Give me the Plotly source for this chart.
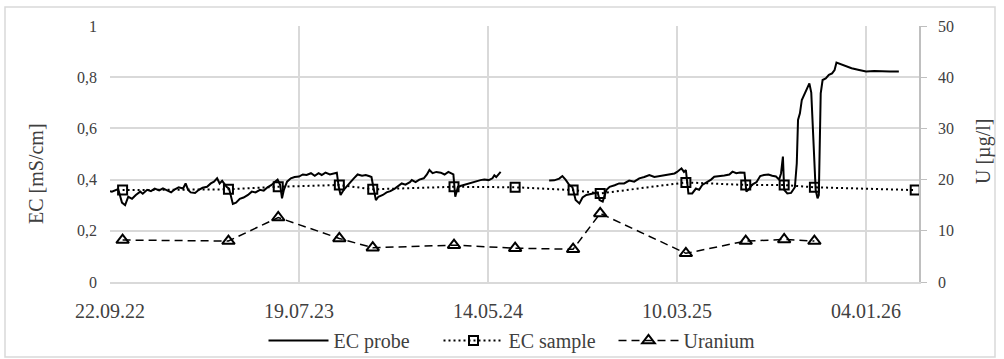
import pandas as pd
import plotly.graph_objects as go

# ---------------- data ----------------
start_date = "2022-09-22"

# EC probe (continuous logger), days since start, two segments separated by a gap
probe_days_1 = [0, 3, 13, 16, 19, 24, 29, 35, 41, 48, 52, 59, 65, 71, 78, 84, 90, 97, 103, 109,
                116, 120, 124, 128, 135, 141, 147, 154, 160, 165, 170, 174, 178, 182, 185, 189,
                192, 195, 200, 206, 212, 219, 225, 231, 238, 244, 250, 257, 262, 266, 270, 273,
                276, 281, 287, 293, 300, 306, 312, 319, 325, 331, 336, 342, 349, 355, 360, 363,
                366, 371, 376, 380, 387, 393, 400, 406, 412, 415, 418, 422, 426, 433, 439, 445,
                452, 457, 463, 469, 476, 479, 485, 491, 498, 503, 507, 512, 518, 525, 531, 537,
                542, 545, 548, 552, 556, 563, 569, 575, 582, 588, 594, 601, 607, 610, 613, 617, 620]
probe_ec_1 = [0.355, 0.353, 0.363, 0.33, 0.31, 0.30, 0.333, 0.325, 0.34, 0.353, 0.345, 0.36, 0.355,
              0.365, 0.358, 0.366, 0.36, 0.35, 0.362, 0.37, 0.365, 0.385, 0.36, 0.35, 0.348, 0.36,
              0.368, 0.372, 0.385, 0.392, 0.405, 0.385, 0.395, 0.38, 0.372, 0.365, 0.33, 0.305,
              0.31, 0.325, 0.33, 0.34, 0.353, 0.35, 0.36, 0.357, 0.37, 0.38, 0.392, 0.40, 0.38,
              0.327, 0.36, 0.392, 0.405, 0.41, 0.412, 0.42, 0.418, 0.425, 0.415, 0.425, 0.418,
              0.427, 0.42, 0.424, 0.427, 0.372, 0.34, 0.36, 0.372, 0.385, 0.405, 0.42, 0.415,
              0.418, 0.413, 0.41, 0.37, 0.32, 0.333, 0.34, 0.35, 0.355, 0.365, 0.375, 0.385, 0.38,
              0.39, 0.398, 0.39, 0.40, 0.405, 0.42, 0.4375, 0.425, 0.43, 0.427, 0.42, 0.43, 0.424,
              0.42, 0.333, 0.37, 0.375, 0.38, 0.385, 0.39, 0.395, 0.398, 0.40, 0.398, 0.405,
              0.417, 0.41, 0.42, 0.43]

probe_days_2 = [697, 705, 713, 718, 723, 729, 734, 739, 745, 750, 756, 763, 769, 774, 777, 782,
                788, 793, 801, 808, 816, 824, 832, 840, 848, 856, 864, 872, 880, 888, 896, 900,
                907, 911, 914, 918, 924, 930, 935, 940, 948, 954, 959, 967, 975, 983, 988, 994,
                1000, 1007, 1010, 1015, 1019, 1026, 1032, 1038, 1045, 1051, 1057, 1062, 1065,
                1068, 1070, 1075, 1081, 1087, 1090, 1092, 1095, 1098, 1105, 1110, 1113, 1120,
                1123, 1125, 1128, 1131, 1136, 1141, 1146, 1150, 1153, 1160, 1168, 1177, 1189,
                1200, 1213, 1225, 1238, 1252]
probe_ec_2 = [0.396, 0.397, 0.404, 0.414, 0.40, 0.379, 0.37, 0.32, 0.307, 0.33, 0.34, 0.344, 0.35,
              0.35, 0.32, 0.314, 0.36, 0.372, 0.378, 0.385, 0.385, 0.396, 0.392, 0.405, 0.41,
              0.418, 0.41, 0.413, 0.418, 0.42, 0.424, 0.43, 0.444, 0.43, 0.4375, 0.346, 0.346,
              0.365, 0.36, 0.379, 0.39, 0.40, 0.411, 0.413, 0.416, 0.42, 0.431, 0.425, 0.428,
              0.427, 0.353, 0.365, 0.38, 0.39, 0.414, 0.418, 0.42, 0.415, 0.412, 0.40, 0.424,
              0.49, 0.36, 0.346, 0.348, 0.37, 0.463, 0.633, 0.659, 0.711, 0.75, 0.776, 0.74,
              0.359, 0.327, 0.34, 0.737, 0.789, 0.795, 0.809, 0.815, 0.828, 0.857, 0.85, 0.841,
              0.835, 0.828, 0.822, 0.824, 0.822, 0.822, 0.822]

# Lab samples (days since start)
sample_days = [20, 188, 267, 364, 417, 546, 643, 735, 778, 914, 1009, 1070, 1118, 1278]
sample_ec = [0.359, 0.362, 0.372, 0.379, 0.362, 0.372, 0.37, 0.359, 0.346, 0.389, 0.379,
             0.379, 0.37, 0.359]
uranium = [8.2, 8.0, 12.6, 8.5, 6.7, 7.2, 6.6, 6.4, 13.4, 5.6, 8.0, 8.3, 8.0, None]

x_tick_labels = ["22.09.22", "19.07.23", "14.05.24", "10.03.25", "04.01.26"]
x_range_days = [0, 1284]

# ---------------- build ----------------
t0 = pd.Timestamp(start_date)
def to_dates(days):
    return [t0 + pd.Timedelta(days=d) for d in days]

probe_x = to_dates(probe_days_1) + [None] + to_dates(probe_days_2)
probe_y = probe_ec_1 + [None] + probe_ec_2
sample_x = to_dates(sample_days)
tick_vals = [pd.to_datetime(s, format="%d.%m.%y") for s in x_tick_labels]

FONT = "Liberation Serif, DejaVu Serif, serif"
TXT = "#404040"
GRID = "#d9d9d9"

fig = go.Figure()
fig.add_trace(go.Scatter(x=probe_x, y=probe_y, mode="lines", name="EC probe",
                         line=dict(color="black", width=2), connectgaps=False))
fig.add_trace(go.Scatter(x=sample_x, y=sample_ec, mode="lines+markers", name="EC sample",
                         line=dict(color="black", width=2, dash="2px,3px"),
                         marker=dict(symbol="square-open", size=9, color="black",
                                     line=dict(width=2, color="black"))))
fig.add_trace(go.Scatter(x=sample_x, y=uranium, mode="lines+markers", name="Uranium",
                         yaxis="y2", connectgaps=False,
                         line=dict(color="black", width=1.5, dash="8px,5px"),
                         marker=dict(symbol="triangle-up-open", size=11, color="black",
                                     line=dict(width=2, color="black"))))

L, R, T, B = 110, 85, 26, 77
W, H = 1004, 359
pw, ph = W - L - R, H - T - B

def px_x(p):
    return (p - L) / pw

def px_y(p):
    return (H - B - p) / ph

fig.update_layout(
    width=W, height=H,
    margin=dict(l=L, r=R, t=T, b=B, pad=0, autoexpand=False),
    paper_bgcolor="white", plot_bgcolor="white",
    separators=",.",
    font=dict(family=FONT, color=TXT, size=16),
    showlegend=True,
    legend=dict(orientation="h", x=px_x(526), xanchor="center", y=px_y(360), yanchor="bottom",
                font=dict(size=20, family=FONT, color=TXT), bgcolor="rgba(0,0,0,0)",
                itemwidth=60, tracegroupgap=0, entrywidth=100),
    xaxis=dict(type="date",
               range=to_dates(x_range_days),
               tickvals=tick_vals, ticktext=x_tick_labels,
               tickfont=dict(size=20, family=FONT), ticks="", ticklen=0, ticklabelstandoff=10,
               showgrid=True, gridcolor=GRID, gridwidth=1.5,
               showline=True, linecolor=GRID, linewidth=1.5, zeroline=False),
    yaxis=dict(range=[0, 1], dtick=0.2, tick0=0,
               tickfont=dict(size=16, family=FONT), ticks="", ticklabelstandoff=12,
               showgrid=True, gridcolor=GRID, gridwidth=1.5,
               showline=False, zeroline=False),
    yaxis2=dict(range=[0, 50], dtick=10, overlaying="y", side="right",
                tickfont=dict(size=16, family=FONT), ticks="outside", ticklen=6,
                tickcolor="#bfbfbf", ticklabelstandoff=8,
                showgrid=False, showline=True, linecolor="#bfbfbf", linewidth=1.5,
                zeroline=False),
    annotations=[
        dict(text="EC [mS/cm]", xref="paper", yref="paper", x=px_x(36), y=px_y(174),
             textangle=-90, showarrow=False, font=dict(size=20, family=FONT, color=TXT),
             xanchor="center", yanchor="middle"),
        dict(text="U [µg/l]", xref="paper", yref="paper", x=px_x(983), y=px_y(152),
             textangle=-90, showarrow=False, font=dict(size=20, family=FONT, color=TXT),
             xanchor="center", yanchor="middle"),
    ],
    shapes=[dict(type="rect", xref="paper", yref="paper",
                 x0=px_x(5), x1=px_x(995), y0=px_y(357), y1=px_y(7),
                 line=dict(color=GRID, width=1.5), fillcolor="rgba(0,0,0,0)", layer="below")],
)

fig.write_html("out.html", config={"displayModeBar": False},
               post_script="document.body.style.margin='0';")
